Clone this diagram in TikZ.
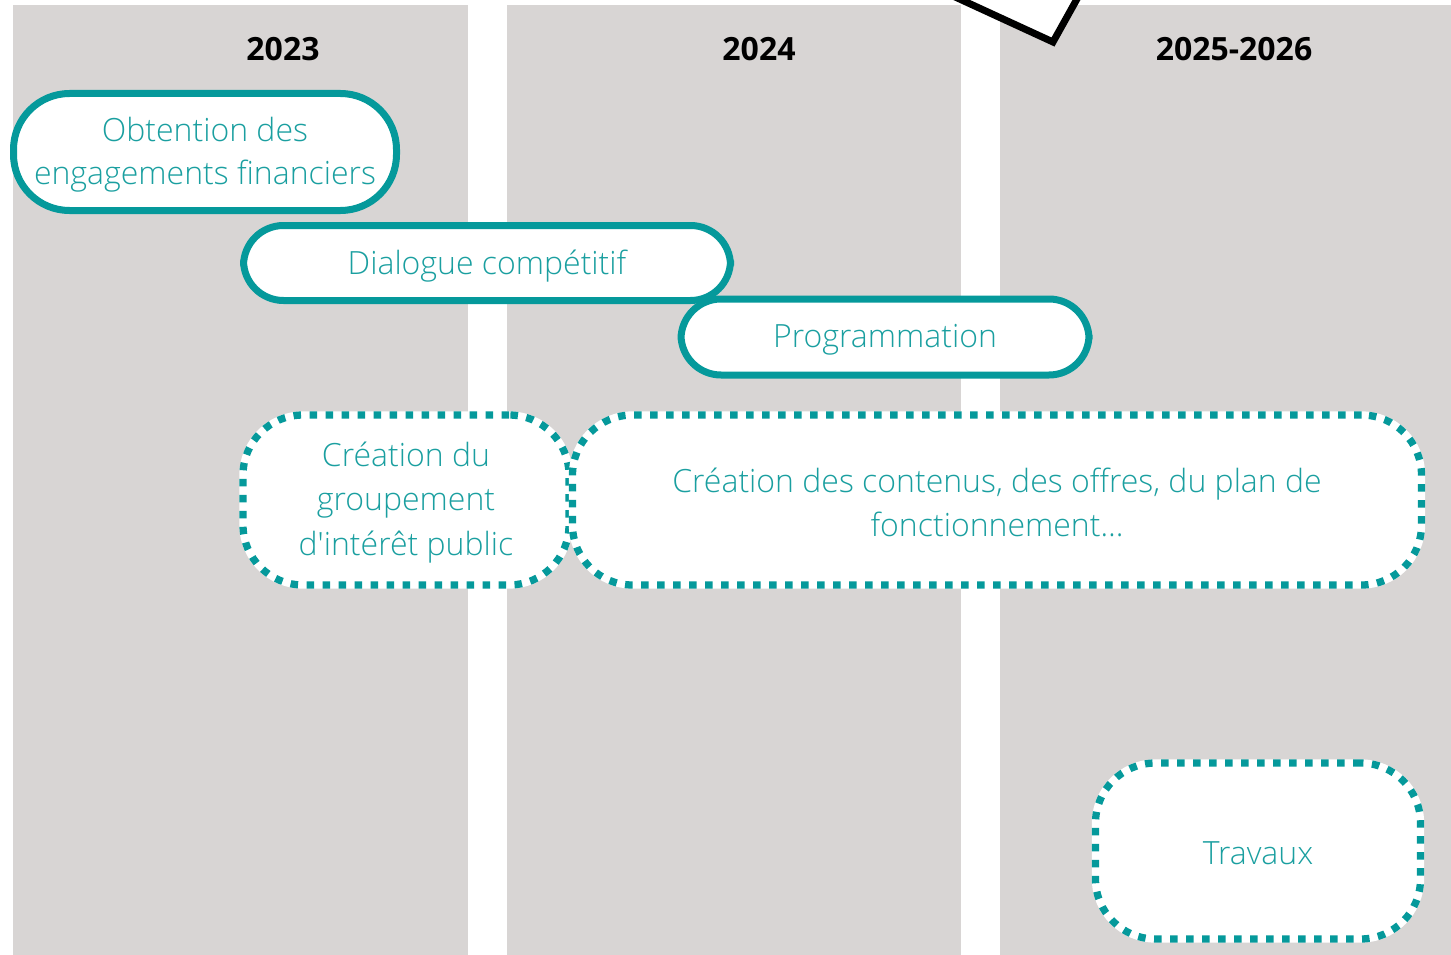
\documentclass[tikz,border=0pt]{standalone}
\usepackage{fontspec}
\setmainfont{Open Sans}
\newfontfamily\lightfont{Open Sans Light}
\definecolor{colgray}{HTML}{D8D5D4}
\definecolor{teal}{HTML}{05999B}
\definecolor{tealtext}{HTML}{1A9FA0}
\begin{document}
\begin{tikzpicture}[x=1pt,y=-1pt,
  column/.style={fill=colgray, draw=none},
  header/.style={font=\bfseries\fontsize{32}{38}\selectfont, text=black, anchor=center},
  solidbox/.style={draw=teal, line width=7pt, fill=white, rectangle, inner sep=0pt},
  dotbox/.style={draw=teal, line width=7.3pt, dash pattern=on 7.5pt off 8.5pt, fill=white, rectangle, inner sep=0pt,
     preaction={draw=white, solid, line width=7.3pt}},
  boxtext/.style={text=tealtext, font=\lightfont\fontsize{32}{43}\selectfont, align=center, inner sep=0pt, yshift=-3pt},
  dottext/.style={text=tealtext, font=\lightfont\fontsize{32}{44.5}\selectfont, align=center, inner sep=0pt, yshift=-2.5pt}
]
\useasboundingbox (0,0) rectangle (1451,955);
\clip (0,0) rectangle (1451,955);
\fill[white] (0,0) rectangle (1451,955);
% columns
\path[column] (13,5) rectangle (468,955);
\path[column] (507,5) rectangle (961,955);
\path[column] (1000,5) rectangle (1451,955);
% black shape at top
\coordinate (v1) at (940,-10);
\coordinate (v2) at (1053,42);
\coordinate (v3) at (1082,-10);
\fill[white] (v1) -- (v2) -- (v3) -- cycle;
\draw[black, line width=7pt, line join=miter] (v1) -- (v2) -- (v3);
% headers
\node[header] (h1) at (283,49) {2023};
\node[header] (h2) at (759,49) {2024};
\node[header] (h3) at (1234,49) {2025-2026};
% solid boxes
\node[solidbox, rounded corners=56pt, minimum width=383pt, minimum height=117pt] (obt) at (205,152) {};
\node[boxtext] (obt-t) at (obt) {Obtention des\\engagements financiers};
\node[solidbox, rounded corners=40pt, minimum width=487pt, minimum height=75pt] (dia) at (487,263) {};
\node[boxtext] (dia-t) at (dia) {Dialogue compétitif};
\node[solidbox, rounded corners=40pt, minimum width=408pt, minimum height=76pt] (prog) at (885,337) {};
\node[boxtext] (prog-t) at (prog) {Programmation};
% dotted boxes
\node[dotbox, rounded corners=60pt, minimum width=326pt, minimum height=170pt] (gip) at (406,500) {};
\node[dottext] (gip-t) at (gip) {Création du\\groupement\\d'intérêt public};
\node[dotbox, rounded corners=60pt, minimum width=849pt, minimum height=170pt] (cont) at (997,500) {};
\node[dottext] (cont-t) at (cont) {Création des contenus, des offres, du plan de\\fonctionnement…};
\node[dotbox, rounded corners=60pt, minimum width=325pt, minimum height=176pt] (trav) at (1258,851) {};
\node[dottext] (trav-t) at (trav) {Travaux};
\end{tikzpicture}
\end{document}
